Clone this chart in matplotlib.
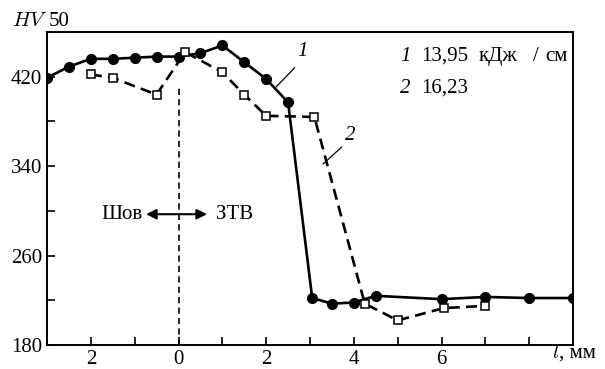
import matplotlib.pyplot as plt
from matplotlib.ticker import FixedLocator, FixedFormatter

plt.rcParams["font.family"] = ["Liberation Serif", "DejaVu Serif"]
plt.rcParams["mathtext.fontset"] = "cm"
plt.rcParams["lines.scale_dashes"] = False

# series 1: 13,95 kJ/cm (filled circles, solid)
x1 = [-3.0, -2.5, -2.0, -1.5, -1.0, -0.5, 0.0, 0.5, 1.0, 1.5, 2.0, 2.5,
      3.05, 3.5, 4.0, 4.5, 6.0, 7.0, 8.0, 9.0]
hv1 = [419, 429, 436, 436, 437, 438, 438, 441, 448, 433, 418, 397,
       222, 217, 218, 224, 221, 223, 222, 222]

# series 2: 16,23 kJ/cm (open squares, dashed)
x2 = [-2.0, -1.5, -0.5, 0.15, 1.0, 1.5, 2.0, 3.1, 4.25, 5.0, 6.05, 7.0]
hv2 = [422, 419, 404, 442, 424, 404, 385, 384, 217, 202, 213, 215]

yticks = [180, 260, 340, 420]
yminor = [220, 300, 380]
xticks = [-2, 0, 2, 4, 6]
xtick_labels = ["2", "0", "2", "4", "6"]
xminor = [-3, -1, 1, 3, 5, 7, 8]

W, H = 605, 369


def px(x, y):
    # pixel position -> figure fraction
    return x / W, 1 - y / H


fig = plt.figure(figsize=(6.05, 3.69), dpi=100)
ax = fig.add_axes([47 / W, 1 - 345 / H, 526 / W, 313 / H])

# weld / HAZ border
ax.plot([0, 0], [180, 413], color="black", lw=1.2, dashes=(4.5, 3))

ax.plot(x1, hv1, color="black", lw=1.9, marker="o", ms=7, zorder=3)
ax.plot(x2, hv2, color="black", lw=1.9, dashes=(8, 4.5), marker="s",
        ms=6, mfc="white", mec="black", mew=1.1, zorder=4)

ax.set_xlim(-3, 9)
ax.set_ylim(180, 460)

ax.xaxis.set_major_locator(FixedLocator(xticks))
ax.xaxis.set_major_formatter(FixedFormatter(xtick_labels))
ax.xaxis.set_minor_locator(FixedLocator(xminor))
ax.yaxis.set_major_locator(FixedLocator(yticks))
ax.yaxis.set_minor_locator(FixedLocator(yminor))
ax.tick_params(which="both", direction="in", length=6, width=1.2,
               labelsize=15, pad=3.5)
for s in ax.spines.values():
    s.set_linewidth(1.4)

fs = 15
fig.text(*px(12, 26.5), r"$HV$", fontsize=fs, va="baseline")
fig.text(*px(49, 26.5), "50", fontsize=fs, va="baseline")
fig.text(*px(552, 358), r"$l$", fontsize=fs, va="baseline")
fig.text(*px(559, 358), ", мм", fontsize=fs, va="baseline")

# curve labels with leader lines
fig.text(*px(302, 52), "1", fontsize=fs, style="italic",
         ha="center", va="center")
ax.plot([2.23, 2.65], [411, 428], color="black", lw=0.9)
fig.text(*px(350, 135), "2", fontsize=fs, style="italic",
         ha="center", va="center")
ax.plot([3.3, 3.72], [342, 357], color="black", lw=0.9)

# legend text
fig.text(*px(400, 61), "1", fontsize=fs, style="italic", va="baseline")
fig.text(*px(421, 61), "13,95", fontsize=fs, va="baseline")
fig.text(*px(479, 61), "кДж", fontsize=fs, va="baseline")
fig.text(*px(533, 61), "/", fontsize=fs, va="baseline")
fig.text(*px(545, 61), "см", fontsize=fs, va="baseline")
fig.text(*px(400, 93), "2", fontsize=fs, style="italic", va="baseline")
fig.text(*px(421, 93), "16,23", fontsize=fs, va="baseline")

# weld / HAZ arrow
ax.annotate("", xy=(-0.74, 297), xytext=(0.65, 297),
            arrowprops=dict(arrowstyle="<|-|>", color="black", lw=1.5,
                            mutation_scale=15, shrinkA=0, shrinkB=0))
ax.text(-0.82, 297, "Шов", fontsize=fs, ha="right", va="center")
ax.text(0.85, 297, "ЗТВ", fontsize=fs, ha="left", va="center")

fig.savefig("out.png", dpi=100)
